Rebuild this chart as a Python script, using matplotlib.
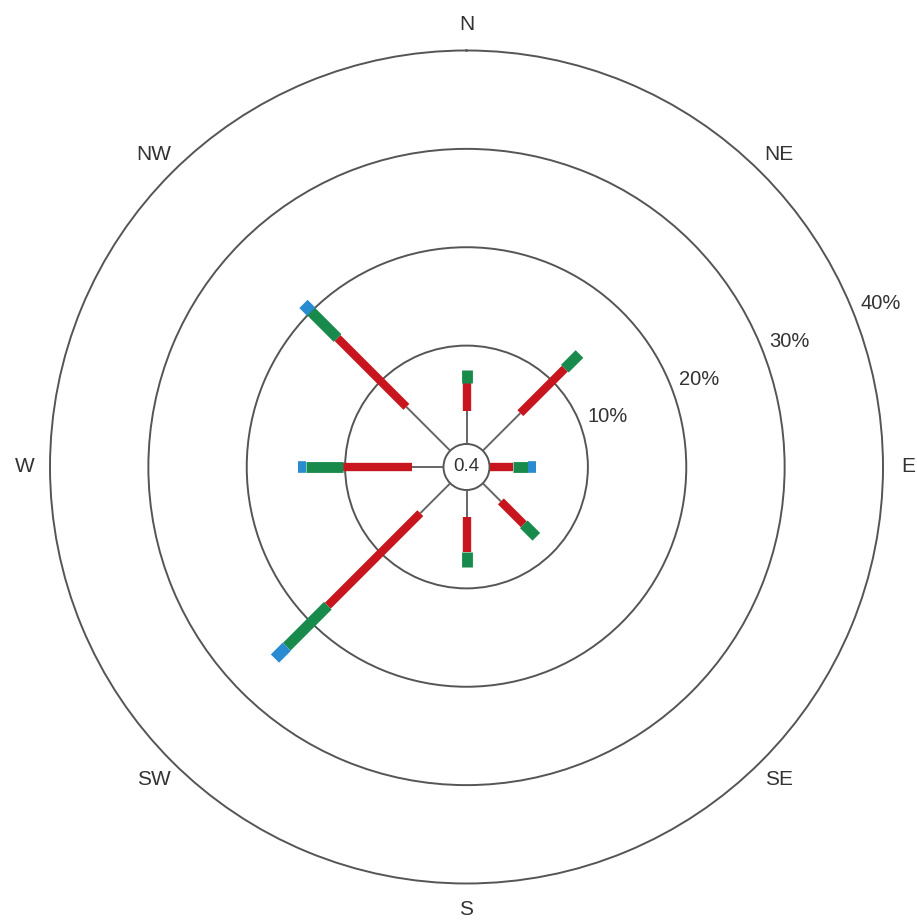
import numpy as np
import matplotlib
matplotlib.use("Agg")
import matplotlib.pyplot as plt

plt.rcParams['font.family'] = ['Liberation Sans', 'DejaVu Sans']

directions = ["N", "NE", "E", "SE", "S", "SW", "W", "NW"]
angles_deg = [0, 45, 90, 135, 180, 225, 270, 315]
# per-bin frequencies (%) stacked outward
bin_gray = [3.4, 5.4, 0.0, 2.6, 2.7, 4.3, 3.15, 6.3]
bin_red = [2.8, 6.4, 2.4, 3.3, 3.6, 13.3, 7.05, 9.9]
bin_green = [1.3, 2.1, 1.5, 1.8, 1.5, 5.9, 3.8, 3.8]
bin_blue = [0.0, 0.0, 0.8, 0.0, 0.0, 1.7, 0.75, 1.1]
calm_value = "0.4"
ring_values = [10, 20, 30, 40]
ring_labels = ["10%", "20%", "30%", "40%"]

colors = ["#666666", "#c8161e", "#178a4c", "#2a8cd0"]
widths = [1.4, 6.0, 7.8, 8.4]

fig = plt.figure(figsize=(9.17, 9.23), dpi=100)
ax = fig.add_axes([0.05453, 0.0428, 0.9084, 0.9025], projection='polar')
ax.set_theta_zero_location('N')
ax.set_theta_direction(-1)
ax.set_rlim(0, 40)
ax.set_rorigin(-2.34)

ax.set_xticks(np.deg2rad(angles_deg))
ax.set_xticklabels([])
ax.xaxis.grid(False)
ax.set_yticks(ring_values[:-1])
ax.set_yticklabels([])
ax.tick_params(which='both', length=0)
ax.yaxis.grid(True, color="#555555", linewidth=1.4)
for gl in ax.yaxis.get_gridlines():
    gl.set_solid_capstyle('butt')
for name, sp in ax.spines.items():
    sp.set_color("#555555")
    sp.set_linewidth(1.4)

bins = np.array([bin_gray, bin_red, bin_green, bin_blue])
cum = np.vstack([np.zeros(len(directions)), np.cumsum(bins, axis=0)])
for j, a in enumerate(angles_deg):
    th = np.deg2rad(a)
    for i in range(4):
        r0, r1 = cum[i, j], cum[i + 1, j]
        if r1 > r0:
            ax.plot([th, th], [r0, r1], color=colors[i], linewidth=widths[i],
                    solid_capstyle='butt', zorder=3 + i)

# ring labels
for v, lab in zip(ring_values, ring_labels):
    ax.text(np.deg2rad(67.5), v + 1.0, lab, ha='left', va='center',
            fontsize=14.5, color="#333333", clip_on=False)

# direction labels
for d, a in zip(directions, angles_deg):
    ax.text(np.deg2rad(a), 42.6, d, ha='center', va='center',
            fontsize=15, color="#333333", clip_on=False)

ax.text(0.5, 0.5, calm_value, transform=ax.transAxes, ha='center', va='center',
        fontsize=13.5, color="#333333")

fig.savefig("out.png", dpi=100)
